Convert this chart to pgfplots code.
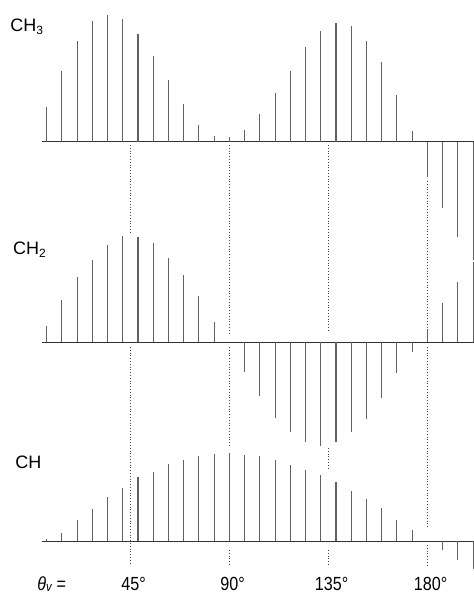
\documentclass[border=0pt]{standalone}
\usepackage{pgfplots}
\pgfplotsset{compat=1.18}
\usepackage{pgfplotstable}
\usepackage{fontspec}
\setmainfont{Liberation Sans}
\newfontfamily\lblfont[FakeStretch=0.85]{Liberation Sans}

% theta (deg) and peak intensities (arbitrary units) of the three DEPT sub-spectra
\pgfplotstableread{
n theta ch3 ch2 ch
1 6.9 35 16.7 2
2 13.8 70.7 42.7 8.4
3 20.8 101 65.4 21
4 27.7 121 82.7 32.7
5 34.6 127 97.4 44.7
6 41.5 122.7 106 53.7
7 48.5 107.7 105.4 64
8 55.4 85.7 99.4 69.7
9 62.3 61.7 84.7 77.4
10 69.2 37.4 67 81.7
11 76.2 16.7 46 85
12 83.1 5.7 20.7 87.7
13 90.0 5 0 88.4
14 96.9 11.7 -30 86.7
15 103.8 28 -53.3 85.3
16 110.8 49 -75.6 81.3
17 117.7 70.7 -90 76
18 124.6 95 -100 71.3
19 131.5 110.7 -103.3 66.7
20 138.5 118.4 -100 59
21 145.4 115.7 -90 50.7
22 152.3 101 -76.6 42.7
23 159.2 79.7 -55.6 33.3
24 166.2 47 -31 21.7
25 173.1 10.5 -10 11.7
26 180.0 -35 13 0
27 186.9 -66.6 39 -9
28 193.8 -95 60 -19
29 200.8 -118 80 -28
}\dept

\begin{document}
\begin{tikzpicture}
\pgfplotsset{
  base/.style={scale only axis, width=237pt, height=299.5pt,
    xmin=-14.23, xmax=201.23, clip=false, at={(0,0)}, anchor=south west},
  spec/.style={base, hide axis},
  spike/.style={ycomb, black!62, line width=0.55pt},
  bline/.style={black!80, line width=0.7pt},
}
\path[use as bounding box] (0,0) rectangle (237pt,299.5pt);

% CH3 row
\begin{axis}[spec, ymin=-457.3, ymax=141.7]
\addplot[bline] coordinates {(4.9,0) (201.23,0)};
\addplot[spike] table[x=theta,y=ch3]{\dept};
\end{axis}

% CH2 row
\begin{axis}[spec, ymin=-256.5, ymax=342.5]
\addplot[bline] coordinates {(4.9,0) (201.23,0)};
\addplot[spike] table[x=theta,y=ch2]{\dept};
\end{axis}

% CH row
\begin{axis}[spec, ymin=-57.5, ymax=541.5]
\addplot[bline] coordinates {(4.9,0) (201.23,0)};
\addplot[spike] table[x=theta,y=ch]{\dept};
\end{axis}

% frame: dotted guide lines, labels
\begin{axis}[base, ymin=0, ymax=599,
  axis line style={draw=none}, major tick length=0pt, ytick=\empty,
  xtick={45,90,135,180},
  xticklabels={45\rlap{°},90\rlap{°},135\rlap{°},180\rlap{°}},
  xticklabel style={anchor=base, yshift=4.5pt, inner sep=0pt,
    font=\lblfont\fontsize{9.5}{11}\selectfont},
  unbounded coords=jump]
\addplot[black!75, line width=0.6pt, dash pattern=on 0.5pt off 0.9pt]
  coordinates {
  (45,454) (45,367) (45,nan) (45,252) (45,34) (45,nan)
  (90,454) (90,264) (90,nan) (90,252) (90,152) (90,nan) (90,49) (90,34) (90,nan)
  (135,454) (135,267) (135,nan) (135,151) (135,129) (135,nan) (135,49) (135,34) (135,nan)
  (180,418) (180,272) (180,nan) (180,252) (180,71) (180,nan) (180,54) (180,34)
  };
\node[anchor=base west, inner sep=0pt, font=\fontsize{9}{10}\selectfont]
  at (axis cs:-9.68,567) {CH\textsubscript{3}};
\node[anchor=base west, inner sep=0pt, font=\fontsize{9}{10}\selectfont]
  at (axis cs:-8.45,344) {CH\textsubscript{2}};
\node[anchor=base west, inner sep=0pt, font=\fontsize{9}{10}\selectfont]
  at (axis cs:-7.4,130.7) {CH};
\node[anchor=base west, inner sep=0pt, font=\lblfont\fontsize{9.5}{11}\selectfont]
  at (axis cs:2.6,9) {\textit{θ}\textsubscript{\textit{v}}\,=};
\end{axis}
\end{tikzpicture}
\end{document}
